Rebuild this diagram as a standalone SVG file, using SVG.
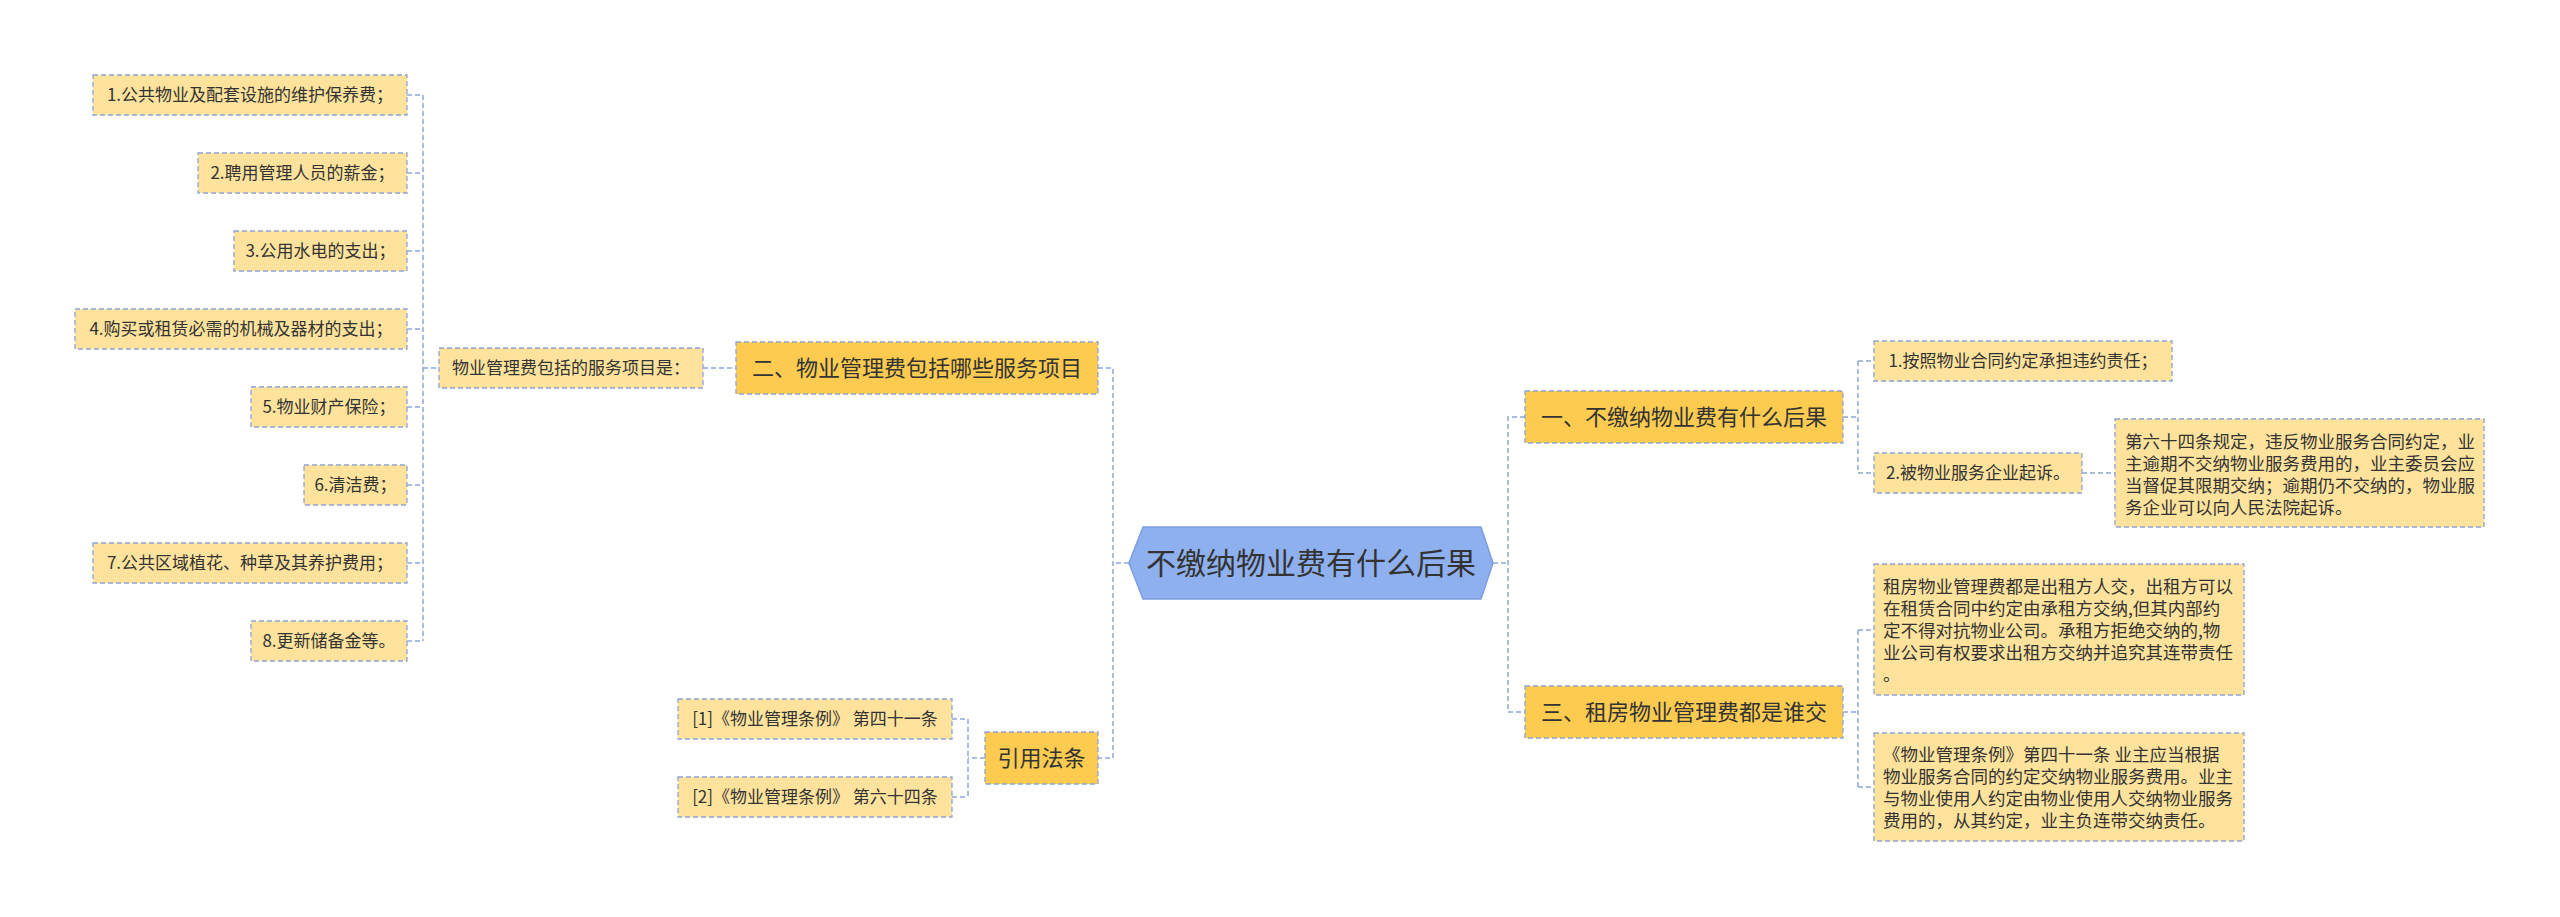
<svg xmlns="http://www.w3.org/2000/svg" width="2560" height="917" viewBox="0 0 2560 917">
<style>
text{font-family:"Noto Sans CJK SC","Noto Sans",sans-serif;fill:#333;}
.leaf{fill:#ffe39c;stroke:#8fa5d4;stroke-width:1.3;stroke-dasharray:5 3;}
.main{fill:#fccb4f;stroke:#8fa5d4;stroke-width:1.3;stroke-dasharray:5 3;}
.root{fill:#8fb0ee;stroke:#7c9de0;stroke-width:1.5;}
.t17{font-size:17px;text-anchor:middle;}
.t17l{font-size:17.5px;}
.t22{font-size:22px;text-anchor:middle;}
.t30{font-size:30px;text-anchor:middle;}
.conn{fill:none;stroke:#8ea7dc;stroke-width:1.5;stroke-dasharray:5 3;}
</style>
<rect width="2560" height="917" fill="#ffffff"/>
<g id="connectors" class="conn">
<path d="M407 95 H423 M407 173 H423 M407 251 H423 M407 329 H423 M407 407 H423 M407 485 H423 M407 563 H423 M407 641 H423"/>
<path d="M423 95 V641"/>
<path d="M423 368 H439"/>
<path d="M703 368 H736"/>
<path d="M1098 368 H1113 V758 H1098"/>
<path d="M1129 563 H1113"/>
<path d="M985 758 H968"/>
<path d="M968 719 V797"/>
<path d="M952 719 H968 M952 797 H968"/>
<path d="M1493 563 H1508"/>
<path d="M1525 417 H1508 V712 H1525"/>
<path d="M1843 417 H1858"/>
<path d="M1858 361 V473"/>
<path d="M1858 361 H1874 M1858 473 H1874"/>
<path d="M2082 473 H2115"/>
<path d="M1843 712 H1858"/>
<path d="M1858 630 V787"/>
<path d="M1858 630 H1874 M1858 787 H1874"/>
</g>
<g id="root">
<polygon class="root" points="1129,563 1143,527 1481,527 1493,563 1481,599 1143,599"/>
<text class="t30" x="1311" y="574">不缴纳物业费有什么后果</text>
</g>
<g id="n-left-main">
<rect class="main" x="736" y="342" width="362" height="52"/>
<text class="t22" x="917" y="376">二、物业管理费包括哪些服务项目</text>
</g>
<g id="n-left-sub">
<rect class="leaf" x="439" y="348" width="264" height="40"/>
<text class="t17" x="571" y="374">物业管理费包括的服务项目是：</text>
</g>
<g id="n-l1">
<rect class="leaf" x="93" y="75" width="314" height="40"/>
<text class="t17" x="250" y="101">1.公共物业及配套设施的维护保养费；</text>
</g>
<g id="n-l2">
<rect class="leaf" x="198" y="153" width="209" height="40"/>
<text class="t17" x="302.5" y="179">2.聘用管理人员的薪金；</text>
</g>
<g id="n-l3">
<rect class="leaf" x="234" y="231" width="173" height="40"/>
<text class="t17" x="320.5" y="257">3.公用水电的支出；</text>
</g>
<g id="n-l4">
<rect class="leaf" x="75" y="309" width="332" height="40"/>
<text class="t17" x="241" y="335">4.购买或租赁必需的机械及器材的支出；</text>
</g>
<g id="n-l5">
<rect class="leaf" x="251" y="387" width="156" height="40"/>
<text class="t17" x="329" y="413">5.物业财产保险；</text>
</g>
<g id="n-l6">
<rect class="leaf" x="304" y="465" width="103" height="40"/>
<text class="t17" x="355.5" y="491">6.清洁费；</text>
</g>
<g id="n-l7">
<rect class="leaf" x="93" y="543" width="314" height="40"/>
<text class="t17" x="250" y="569">7.公共区域植花、种草及其养护费用；</text>
</g>
<g id="n-l8">
<rect class="leaf" x="251" y="621" width="156" height="40"/>
<text class="t17" x="329" y="647">8.更新储备金等。</text>
</g>
<g id="n-cite">
<rect class="main" x="985" y="732" width="113" height="52"/>
<text class="t22" x="1041.5" y="766">引用法条</text>
</g>
<g id="n-cite1">
<rect class="leaf" x="678" y="699" width="274" height="40"/>
<text class="t17" x="815" y="725">[1]《物业管理条例》 第四十一条</text>
</g>
<g id="n-cite2">
<rect class="leaf" x="678" y="777" width="274" height="40"/>
<text class="t17" x="815" y="803">[2]《物业管理条例》 第六十四条</text>
</g>
<g id="n-right1">
<rect class="main" x="1525" y="391" width="318" height="52"/>
<text class="t22" x="1684" y="425">一、不缴纳物业费有什么后果</text>
</g>
<g id="n-r1a">
<rect class="leaf" x="1874" y="341" width="298" height="40"/>
<text class="t17" x="2023" y="367">1.按照物业合同约定承担违约责任；</text>
</g>
<g id="n-r1b">
<rect class="leaf" x="1874" y="453" width="208" height="40"/>
<text class="t17" x="1978" y="479">2.被物业服务企业起诉。</text>
</g>
<g id="n-r1b-detail">
<rect class="leaf" x="2115" y="419" width="369" height="108"/>
<text class="t17l" x="2125" y="448">第六十四条规定，违反物业服务合同约定，业</text>
<text class="t17l" x="2125" y="470">主逾期不交纳物业服务费用的，业主委员会应</text>
<text class="t17l" x="2125" y="492">当督促其限期交纳；逾期仍不交纳的，物业服</text>
<text class="t17l" x="2125" y="514">务企业可以向人民法院起诉。</text>
</g>
<g id="n-right3">
<rect class="main" x="1525" y="686" width="318" height="52"/>
<text class="t22" x="1684" y="720">三、租房物业管理费都是谁交</text>
</g>
<g id="n-r3a">
<rect class="leaf" x="1874" y="564" width="370" height="131"/>
<text class="t17l" x="1883" y="593">租房物业管理费都是出租方人交，出租方可以</text>
<text class="t17l" x="1883" y="615">在租赁合同中约定由承租方交纳,但其内部约</text>
<text class="t17l" x="1883" y="637">定不得对抗物业公司。承租方拒绝交纳的,物</text>
<text class="t17l" x="1883" y="659">业公司有权要求出租方交纳并追究其连带责任</text>
<text class="t17l" x="1883" y="681">。</text>
</g>
<g id="n-r3b">
<rect class="leaf" x="1874" y="733" width="370" height="108"/>
<text class="t17l" x="1883" y="761">《物业管理条例》第四十一条 业主应当根据</text>
<text class="t17l" x="1883" y="783">物业服务合同的约定交纳物业服务费用。业主</text>
<text class="t17l" x="1883" y="805">与物业使用人约定由物业使用人交纳物业服务</text>
<text class="t17l" x="1883" y="827">费用的，从其约定，业主负连带交纳责任。</text>
</g>
</svg>
